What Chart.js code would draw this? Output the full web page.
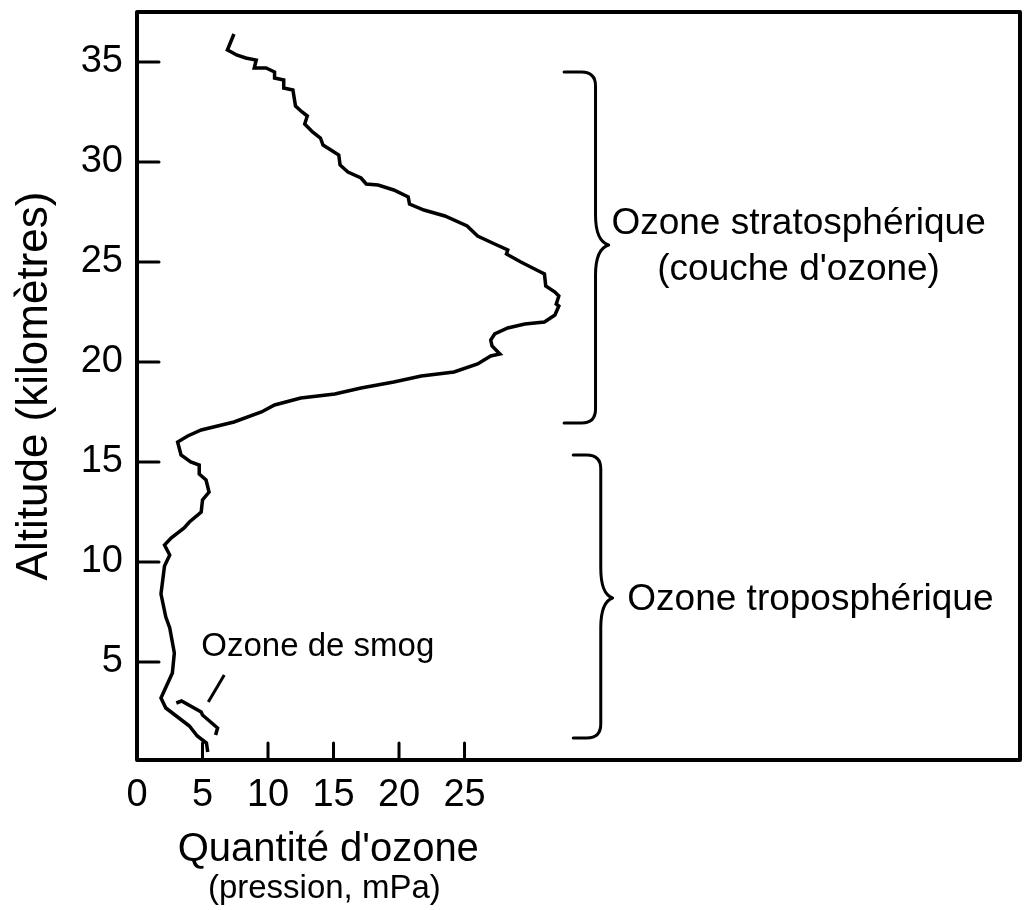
<!DOCTYPE html>
<html>
<head>
<meta charset="utf-8">
<script src="https://cdn.jsdelivr.net/npm/chart.js@4/dist/chart.umd.min.js"></script>
<style>
body { margin: 0; background: #fff; }
</style>
</head>
<body>
<canvas id="chart" width="1024" height="910"></canvas>
<script>
"use strict";
// ozone profile, read top to bottom (mPa, km)
const ozone = [7.4, 6.9, 7.2, 7.6, 8.3, 9.1, 8.95, 9.85, 10.5, 10.5, 11.2, 11.2, 11.9, 12.1, 12.6, 13.0, 12.8, 13.4, 14.0, 14.2,
    14.8, 15.4, 15.5, 16.1, 17.1, 17.5, 18.4, 19.6, 20.7, 20.8, 21.9, 23.5, 25.2, 26.0, 27.3, 28.3, 28.2, 29.3, 30.5, 31.1,
    31.2, 31.9, 32.2, 32.0, 32.2, 31.9, 31.1, 29.6, 28.3, 27.3, 27.0, 27.1, 27.7, 27.0, 26.0, 24.2, 21.7, 19.6, 17.1, 15.1,
    12.5, 10.5, 9.5, 7.4, 4.9, 3.87, 3.1, 3.36, 4.1, 4.75, 4.75, 5.27, 5.5, 5.0, 4.9, 4.0, 3.6, 2.6, 2.1, 2.5,
    2.1, 1.83, 2.2, 2.5, 2.85, 2.7, 1.83, 2.2, 3.2, 4.0, 4.6, 5.3, 5.4];
const altitude = [36.4, 35.6, 35.5, 35.35, 35.2, 35.1, 34.7, 34.7, 34.5, 34.2, 34.1, 33.7, 33.6, 32.8, 32.5, 32.3, 31.9, 31.5, 31.2, 30.85,
    30.6, 30.35, 29.85, 29.5, 29.2, 28.9, 28.85, 28.6, 28.25, 27.9, 27.6, 27.3, 26.8, 26.3, 25.9, 25.6, 25.4, 25.0, 24.6, 24.4,
    23.8, 23.5, 23.3, 22.9, 22.8, 22.35, 22.0, 21.9, 21.7, 21.4, 21.1, 20.8, 20.4, 20.3, 19.9, 19.5, 19.3, 19.0, 18.7, 18.4,
    18.2, 17.85, 17.5, 17.0, 16.6, 16.3, 16.0, 15.35, 15.0, 14.85, 14.4, 14.1, 13.5, 13.1, 12.5, 12.0, 11.7, 11.2, 10.85, 10.35,
    9.8, 8.4, 7.25, 6.7, 5.45, 4.45, 3.2, 2.7, 2.2, 1.8, 1.3, 0.95, 0.5];
// smog trace near the ground
const smogOzone = [3.0, 3.4, 4.9, 5.0, 6.15, 6.0];
const smogAltitude = [2.95, 3.05, 2.5, 2.35, 1.7, 1.35];
const pointerOzone = [6.66, 5.44];
const pointerAltitude = [4.35, 3.0];

const xTicks = [0, 5, 10, 15, 20, 25];
const yTicks = [5, 10, 15, 20, 25, 30, 35];

// braces on the right, in data units
const braces = [
    { top: 34.5, bottom: 16.95, tip: 25.85, tail: 32.6, spine: 35.0, point: 36.0 },
    { top: 15.35, bottom: 1.2, tip: 8.2, tail: 33.3, spine: 35.4, point: 36.3 }
];
const notes = [
    { text: "Ozone stratosphérique", x: 50.5, y: 26.9, size: 37 },
    { text: "(couche d'ozone)", x: 50.5, y: 24.6, size: 37 },
    { text: "Ozone troposphérique", x: 51.4, y: 8.1, size: 37 },
    { text: "Ozone de smog", x: 13.8, y: 5.75, size: 33 }
];

const font = "'Liberation Sans', Arial, sans-serif";
Chart.defaults.font.family = font;
Chart.defaults.color = '#000';

function toPoints(xs, ys) {
    return xs.map((v, i) => ({ x: v, y: ys[i] }));
}

const decor = {
    id: 'decor',
    afterDatasetsDraw(chart) {
        const c = chart.ctx;
        const area = chart.chartArea;
        const sx = chart.scales.x, sy = chart.scales.y;
        c.save();
        c.strokeStyle = '#000';
        c.fillStyle = '#000';
        c.lineCap = 'round';
        c.lineJoin = 'round';

        // frame
        c.lineWidth = 4;
        c.strokeRect(area.left, area.top, area.right - area.left, area.bottom - area.top);

        // inward ticks
        c.lineWidth = 3;
        c.beginPath();
        xTicks.forEach(v => {
            if (v === 0) return;
            const px = sx.getPixelForValue(v);
            c.moveTo(px, area.bottom);
            c.lineTo(px, area.bottom - 17);
        });
        yTicks.forEach(v => {
            const py = sy.getPixelForValue(v);
            c.moveTo(area.left, py);
            c.lineTo(area.left + 22, py);
        });
        c.stroke();

        // braces
        braces.forEach(b => {
            const xl = sx.getPixelForValue(b.tail);
            const xm = sx.getPixelForValue(b.spine);
            const xt = sx.getPixelForValue(b.point);
            const yt = sy.getPixelForValue(b.top);
            const yb = sy.getPixelForValue(b.bottom);
            const ym = sy.getPixelForValue(b.tip);
            const r = 14;
            c.beginPath();
            c.moveTo(xl, yt);
            c.lineTo(xm - r, yt);
            c.quadraticCurveTo(xm, yt, xm, yt + r);
            c.lineTo(xm, ym - 30);
            c.quadraticCurveTo(xm, ym - 4, xt, ym);
            c.quadraticCurveTo(xm, ym + 4, xm, ym + 30);
            c.lineTo(xm, yb - r);
            c.quadraticCurveTo(xm, yb, xm - r, yb);
            c.lineTo(xl, yb);
            c.stroke();
        });

        // notes
        c.textAlign = 'center';
        c.textBaseline = 'middle';
        notes.forEach(n => {
            c.font = n.size + 'px ' + font;
            c.fillText(n.text, sx.getPixelForValue(n.x), sy.getPixelForValue(n.y));
        });

        // x axis title, two lines
        c.font = '40px ' + font;
        c.fillText("Quantité d'ozone", sx.getPixelForValue(14.6), area.bottom + 90);
        c.font = '33px ' + font;
        c.fillText("(pression, mPa)", sx.getPixelForValue(14.3), area.bottom + 129);
        c.restore();
    }
};

function noPad(s) {
    s.paddingTop = 0;
    s.paddingBottom = 0;
    s.paddingLeft = 0;
    s.paddingRight = 0;
}

const ctx = document.getElementById('chart').getContext('2d');
const line = { showLine: true, borderColor: '#000', pointRadius: 0, tension: 0, fill: false };
new Chart(ctx, {
    type: 'scatter',
    data: {
        datasets: [
            Object.assign({ data: toPoints(ozone, altitude), borderWidth: 3.5 }, line),
            Object.assign({ data: toPoints(smogOzone, smogAltitude), borderWidth: 3.5 }, line),
            Object.assign({ data: toPoints(pointerOzone, pointerAltitude), borderWidth: 3 }, line)
        ]
    },
    options: {
        responsive: false,
        animation: false,
        devicePixelRatio: 1,
        layout: { padding: { top: 12, right: 4, left: 0, bottom: 0 } },
        plugins: { legend: { display: false }, tooltip: { enabled: false } },
        scales: {
            x: {
                type: 'linear',
                min: 0,
                max: 67.4,
                grid: { display: false, drawTicks: false },
                border: { display: false },
                afterBuildTicks: axis => { axis.ticks = xTicks.map(v => ({ value: v })); },
                afterFit: s => { s.height = 150; noPad(s); },
                ticks: { font: { size: 38 }, padding: 13, maxRotation: 0, autoSkip: false }
            },
            y: {
                type: 'linear',
                min: 0.1,
                max: 37.5,
                grid: { display: false, drawTicks: false },
                border: { display: false },
                afterBuildTicks: axis => { axis.ticks = yTicks.map(v => ({ value: v })); },
                afterFit: s => { s.width = 137; noPad(s); },
                ticks: { font: { size: 38 }, padding: 14, autoSkip: false },
                title: { display: true, text: 'Altitude (kilomètres)', font: { size: 44 }, padding: { top: 8, bottom: 0 } }
            }
        }
    },
    plugins: [decor]
});
</script>
</body>
</html>
